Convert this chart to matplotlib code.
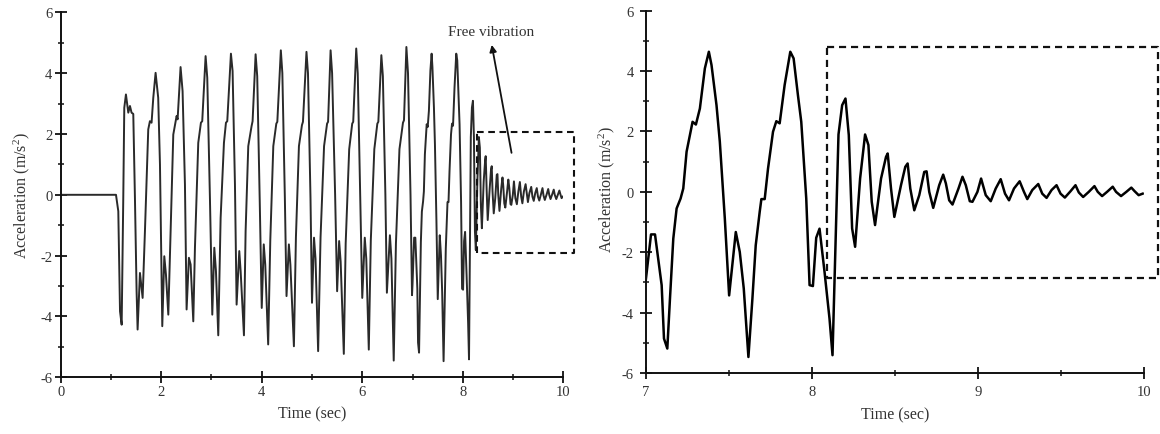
import matplotlib
matplotlib.use("Agg")
import matplotlib.pyplot as plt
from matplotlib.ticker import MultipleLocator

plt.rcParams['font.family'] = ['Liberation Serif', 'DejaVu Serif']
plt.rcParams['mathtext.fontset'] = 'custom'
plt.rcParams['mathtext.rm'] = 'Liberation Serif'
plt.rcParams['mathtext.it'] = 'Liberation Serif:italic'
plt.rcParams['axes.unicode_minus'] = False

# ---- data ----
time = [
    0.0, 1.10, 1.146, 1.18, 1.213, 1.245, 1.265, 1.298, 1.345, 1.378, 1.41, 1.444,
    1.477, 1.51, 1.53, 1.577, 1.63, 1.676, 1.742, 1.775, 1.808, 1.842, 1.888, 1.94,
    1.975, 2.021, 2.061, 2.094, 2.141, 2.187, 2.24, 2.306, 2.326, 2.385, 2.425, 2.472,
    2.505, 2.551, 2.585, 2.638, 2.671, 2.737, 2.79, 2.816, 2.883, 2.916, 2.969, 3.016,
    3.056, 3.089, 3.135, 3.182, 3.248, 3.288, 3.314, 3.387, 3.42, 3.467, 3.50, 3.553,
    3.58, 3.646, 3.679, 3.732, 3.798, 3.818, 3.878, 3.91, 3.96, 4.0, 4.04, 4.07,
    4.128, 4.17, 4.23, 4.29, 4.31, 4.38, 4.41, 4.46, 4.493, 4.54, 4.57, 4.64,
    4.68, 4.74, 4.80, 4.82, 4.89, 4.92, 4.97, 5.0, 5.04, 5.07, 5.122, 5.17,
    5.24, 5.30, 5.32, 5.37, 5.40, 5.46, 5.50, 5.54, 5.57, 5.633, 5.67, 5.74,
    5.80, 5.82, 5.88, 5.91, 5.96, 6.0, 6.05, 6.08, 6.13, 6.17, 6.24, 6.30,
    6.32, 6.38, 6.41, 6.46, 6.49, 6.55, 6.58, 6.626, 6.67, 6.74, 6.81, 6.83,
    6.878, 6.91, 6.96, 6.99, 7.0, 7.032, 7.056, 7.096, 7.11, 7.13, 7.146, 7.166,
    7.186, 7.21, 7.226, 7.246, 7.282, 7.302, 7.326, 7.356, 7.38, 7.396, 7.426, 7.446,
    7.476, 7.502, 7.542, 7.566, 7.59, 7.618, 7.642, 7.662, 7.686, 7.696, 7.716, 7.736,
    7.766, 7.786, 7.806, 7.836, 7.87, 7.89, 7.916, 7.936, 7.966, 7.986, 8.006, 8.026,
    8.046, 8.076, 8.106, 8.124, 8.16, 8.182, 8.202, 8.222, 8.242, 8.26, 8.29, 8.32,
    8.34, 8.36, 8.38, 8.416, 8.446, 8.456, 8.476, 8.496, 8.536, 8.562, 8.576, 8.592,
    8.616, 8.646, 8.676, 8.69, 8.706, 8.73, 8.766, 8.79, 8.806, 8.826, 8.846, 8.882,
    8.906, 8.926, 8.95, 8.966, 8.996, 9.018, 9.046, 9.076, 9.106, 9.136, 9.162, 9.186,
    9.216, 9.25, 9.276, 9.296, 9.326, 9.362, 9.386, 9.412, 9.442, 9.472, 9.496, 9.522,
    9.556, 9.586, 9.606, 9.632, 9.666, 9.70, 9.72, 9.746, 9.776, 9.81, 9.83, 9.86,
    9.892, 9.922, 9.942, 9.966, 9.99,
]
accel = [
    0.0, 0.0, -0.54, -3.83, -4.27, -0.10, 2.86, 3.30, 2.70, 2.92, 2.70, 2.66,
    -0.10, -3.17, -4.43, -2.57, -3.39, -1.20, 2.15, 2.42, 2.37, 3.19, 4.01, 3.19,
    1.00, -4.32, -2.02, -2.62, -3.94, -1.20, 1.98, 2.59, 2.48, 4.20, 3.41, 0.34,
    -3.77, -2.07, -2.29, -4.16, -1.74, 1.71, 2.37, 2.42, 4.56, 3.85, -0.10, -3.94,
    -1.74, -2.51, -4.62, -0.76, 1.71, 2.37, 2.42, 4.64, 4.07, 0.34, -3.61, -1.85,
    -2.51, -4.62, -1.20, 1.60, 2.26, 2.42, 4.62, 3.90, -0.20, -3.72, -1.63, -2.30,
    -4.92, -1.50, 1.60, 2.34, 2.40, 4.75, 4.00, -0.10, -3.33, -1.63, -2.30, -4.98,
    -1.40, 1.60, 2.29, 2.40, 4.70, 4.00, -0.10, -3.55, -1.41, -2.10, -5.14, -1.40,
    1.60, 2.34, 2.40, 4.75, 4.00, 0.00, -3.17, -1.52, -2.20, -5.23, -1.60, 1.50,
    2.34, 2.40, 4.81, 4.00, -0.10, -3.39, -1.41, -2.10, -5.09, -1.50, 1.50, 2.34,
    2.40, 4.59, 3.90, 0.00, -3.22, -1.33, -2.10, -5.45, -1.60, 1.50, 2.37, 2.45,
    4.86, 4.00, 0.00, -3.30, -2.95, -1.41, -1.41, -3.09, -4.86, -5.19, -3.54, -1.55,
    -0.55, -0.22, 0.11, 1.33, 2.32, 2.23, 2.76, 4.09, 4.64, 4.20, 2.87, 1.66,
    -0.88, -3.43, -1.33, -1.99, -3.20, -5.47, -3.54, -1.77, -0.66, -0.24, -0.24, 0.77,
    1.99, 2.34, 2.27, 3.54, 4.64, 4.42, 3.20, 2.32, -0.22, -3.09, -3.12, -1.52,
    -1.22, -2.65, -4.20, -5.41, 1.90, 2.87, 3.09, 1.88, -1.21, -1.82, 0.44, 1.90,
    1.55, -0.33, -1.10, 0.44, 1.16, 1.27, 0.11, -0.83, 0.22, 0.83, 0.94, 0.11,
    -0.61, -0.11, 0.66, 0.68, 0.00, -0.53, 0.22, 0.57, 0.28, -0.28, -0.42, 0.11,
    0.50, 0.22, -0.31, -0.33, 0.00, 0.44, -0.11, -0.31, 0.11, 0.42, -0.06, -0.28,
    0.11, 0.35, 0.00, -0.24, 0.06, 0.26, -0.06, -0.20, 0.06, 0.22, -0.06, -0.19,
    0.02, 0.22, -0.02, -0.17, 0.00, 0.19, 0.00, -0.14, 0.00, 0.17, 0.00, -0.14,
    0.00, 0.14, 0.02, -0.11, -0.06,
]
left_xticks = [0, 2, 4, 6, 8, 10]
right_xticks = [7, 8, 9, 10]
yticks = [-6, -4, -2, 0, 2, 4, 6]
box_left = [8.277, 10.21, -1.91, 2.07]     # x0, x1, y0, y1
box_right = [8.092, 10.08, -2.85, 4.80]

W, H = 1160, 435
fig = plt.figure(figsize=(W / 100, H / 100), dpi=100)

TXT = '#333333'


def style(ax, xlim, xticks, xminor, xpad, ypad):
    ax.set_xlim(*xlim)
    ax.set_ylim(-6, 6)
    ax.set_xticks(xticks)
    ax.set_yticks(yticks)
    ax.xaxis.set_minor_locator(MultipleLocator(xminor))
    ax.yaxis.set_minor_locator(MultipleLocator(1))
    for s in ['top', 'right']:
        ax.spines[s].set_visible(False)
    for s in ['left', 'bottom']:
        ax.spines[s].set_linewidth(1.4)
        ax.spines[s].set_color('#111111')
    ax.tick_params(which='major', direction='inout', length=9, width=1.3,
                   color='#111111', labelsize=10.5, labelcolor=TXT)
    ax.tick_params(which='minor', direction='inout', length=5, width=1.1,
                   color='#111111')
    ax.tick_params(axis='x', which='major', pad=xpad)
    ax.tick_params(axis='y', which='major', pad=ypad)
    ax.patch.set_alpha(0)


def box(ax, b, lw):
    x0, x1, y0, y1 = b
    ax.plot([x0, x1, x1, x0, x0], [y1, y1, y0, y0, y1], color='#111111',
            lw=lw, linestyle=(0, (3.2, 2.2)), clip_on=False)


# left panel
axL = fig.add_axes([60.7 / W, 1 - 378.3 / H, (563.3 - 60.7) / W, (378.3 - 13.3) / H])
axL.plot(time, accel, color='#2a2a2a', lw=1.4)
style(axL, (0, 10), left_xticks, 1, 1.0, 1.5)
box(axL, box_left, 1.5)
axL.annotate('Free vibration', xy=(8.576, 4.93), xytext=(8.56, 5.36),
             ha='center', va='center', fontsize=11, color=TXT,
             annotation_clip=False)
axL.annotate('', xy=(8.576, 4.93), xytext=(8.97, 1.38),
             arrowprops=dict(arrowstyle='-|>', color='#111111', lw=1.3,
                             mutation_scale=10, shrinkA=0, shrinkB=0))

# right panel
axR = fig.add_axes([645.7 / W, 1 - 374 / H, (1144.3 - 645.7) / W, (374 - 11.7) / H])
axR.plot(time, accel, color='black', lw=1.8)
style(axR, (7, 10), right_xticks, 0.5, 4.0, 4.0)
box(axR, box_right, 1.6)

ylab = 'Acceleration (m/s$^2$)'
fig.text(22 / W, 1 - 196 / H, ylab, rotation=90, ha='center', va='center',
         fontsize=11.5, color=TXT)
fig.text(607 / W, 1 - 190 / H, ylab, rotation=90, ha='center', va='center',
         fontsize=11.5, color=TXT)
fig.text(312 / W, 1 - 414 / H, 'Time (sec)', ha='center', va='center',
         fontsize=11.5, color=TXT)
fig.text(895 / W, 1 - 415 / H, 'Time (sec)', ha='center', va='center',
         fontsize=11.5, color=TXT)

fig.savefig('out.png', dpi=100)
